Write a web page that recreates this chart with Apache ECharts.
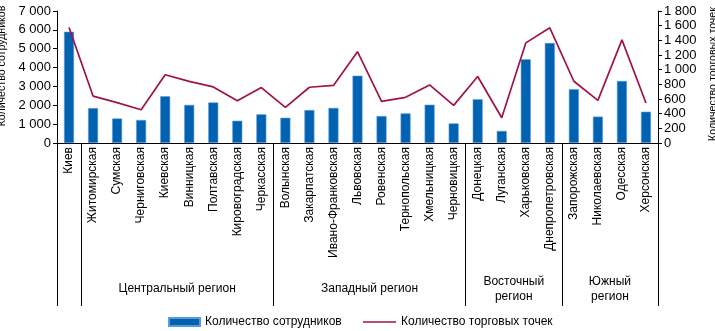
<!DOCTYPE html>
<html><head><meta charset="utf-8">
<script src="https://cdn.jsdelivr.net/npm/echarts@6/dist/echarts.min.js"></script>
<style>html,body{margin:0;padding:0;background:#fff}#c{width:715px;height:331px}</style>
</head><body><div id="c"></div>
<script>
const categories = ['Киев','Житомирская','Сумская','Черниговская','Киевская','Винницкая','Полтавская','Кировоградская','Черкасская','Волынская','Закарпатская','Ивано-Франковская','Львовская','Ровенская','Тернопольская','Хмельницкая','Черновицкая','Донецкая','Луганская','Харьковская','Днепропетровская','Запорожская','Николаевская','Одесская','Херсонская'];
const employees = [5900,1850,1300,1220,2480,2020,2150,1180,1520,1340,1750,1860,3570,1430,1570,2030,1040,2320,640,4440,5300,2850,1400,3290,1660];
const outlets = [1575,640,550,453,930,840,765,577,756,485,760,785,1245,568,623,792,513,907,344,1365,1571,842,581,1406,545];
const regions = ['Центральный регион','Западный регион','Восточный\nрегион','Южный\nрегион'];
const regionStart = [1,9,17,21];   // first category index of each region
const regionEnd = [9,17,21,25];    // exclusive end index
const seriesNames = ['Количество сотрудников','Количество торговых точек'];
const axisNames = ['Количество сотрудников','Количество торговых точек'];

// half-slot axis: point k sits at k/2 categories
const halfSlots = [];
for (let k = 0; k <= categories.length * 2; k++) halfSlots.push('');
const regionLabelIdx = [];
regions.forEach((r, i) => { const k = regionStart[i] + regionEnd[i]; halfSlots[k] = r; regionLabelIdx.push(k); });
const regionTickIdx = [0, 2].concat(regionEnd.map(e => e * 2));

const fmt = v => String(v).replace(/\B(?=(\d{3})+(?!\d))/g, ' ');
const FONT = 'Liberation Sans';
const legendText = { fontSize: 12, color: '#000', fontFamily: FONT };
const chart = echarts.init(document.getElementById('c'));
chart.setOption({
  animation: false,
  textStyle: { fontFamily: FONT, color: '#000' },
  grid: { left: 57, right: 57, top: 11, bottom: 188, containLabel: false, outerBoundsMode: 'none' },
  legend: [{
    top: 316, left: 168, padding: 0, itemWidth: 31, itemHeight: 8, textStyle: legendText,
    data: [{ name: seriesNames[0], icon: 'rect' }]
  }, {
    top: 316, left: 363, padding: 0, itemWidth: 33, itemHeight: 1.5, textStyle: legendText,
    data: [{ name: seriesNames[1], icon: 'rect' }]
  }],
  xAxis: [{
    type: 'category', data: categories, position: 'bottom',
    axisLine: { lineStyle: { color: '#000', width: 1 } },
    axisTick: { length: 123, lineStyle: { color: '#000' } },
    axisLabel: { rotate: 90, margin: 4, fontSize: 12, color: '#000', interval: 0 }
  }, {
    type: 'category', data: halfSlots, position: 'bottom', boundaryGap: false,
    axisLine: { show: false },
    axisTick: { show: true, length: 163, lineStyle: { color: '#000' },
      interval: (i) => regionTickIdx.indexOf(i) >= 0 },
    axisLabel: { margin: 146, verticalAlign: 'middle', align: 'center', fontSize: 12, color: '#000', lineHeight: 15,
      interval: (i) => regionLabelIdx.indexOf(i) >= 0 }
  }],
  yAxis: [{
    type: 'value', min: 0, max: 7000, interval: 1000, position: 'left',
    name: axisNames[0], nameLocation: 'middle', nameGap: 39, nameRotate: 90,
    nameTextStyle: { fontSize: 10.6, color: '#000', padding: [0, 0, 0, 22] },
    axisLine: { show: true, lineStyle: { color: '#000' } },
    axisTick: { show: true, length: 4, lineStyle: { color: '#000' } },
    splitLine: { show: false },
    axisLabel: { fontSize: 13, color: '#000', margin: 6, formatter: fmt }
  }, {
    type: 'value', min: 0, max: 1800, interval: 200, position: 'right',
    name: axisNames[1], nameLocation: 'middle', nameGap: 42, nameRotate: 90,
    nameTextStyle: { fontSize: 10.6, color: '#000', padding: [0, 0, 0, 6] },
    axisLine: { show: true, lineStyle: { color: '#000' } },
    axisTick: { show: true, length: 4, lineStyle: { color: '#000' } },
    splitLine: { show: false },
    axisLabel: { fontSize: 13, color: '#000', margin: 6, formatter: fmt }
  }],
  series: [{
    name: seriesNames[0], type: 'bar', data: employees, barWidth: 10,
    xAxisIndex: 0, yAxisIndex: 0,
    itemStyle: { color: '#0062B0', borderColor: '#5a9ad6', borderWidth: 0.6 }
  }, {
    name: seriesNames[1], type: 'line', data: outlets, symbol: 'none',
    xAxisIndex: 0, yAxisIndex: 1,
    lineStyle: { color: '#A0124B', width: 1.7 }, itemStyle: { color: '#A0124B' }
  }]
});
</script></body></html>
